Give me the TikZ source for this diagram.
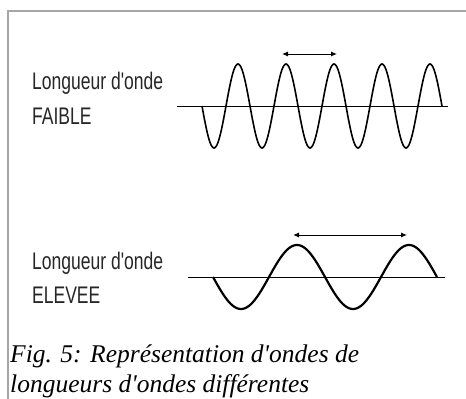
\documentclass[tikz,border=0pt]{standalone}
\usepackage{fontspec}
\usepackage{graphicx}
\usepackage{tikz}
\usetikzlibrary{arrows.meta, positioning}
\newfontfamily\labelfont{Liberation Sans}
\newfontfamily\captionfont{Liberation Serif}
\newcommand{\narrow}[1]{\scalebox{0.73}[1]{#1}}

\begin{document}
\begin{tikzpicture}[
    x=1pt, y=-1pt,
    frame/.style={draw=black!35, line width=1.5pt},
    axis/.style={draw=black, line width=0.9pt},
    wave/.style={draw=black, line width=1.6pt, line join=round},
    label/.style={anchor=base west, inner sep=0pt, text=black!85,
        font=\labelfont\fontsize{24}{35}\selectfont},
    arrow/.style={{Latex[length=6pt, width=5pt]}-{Latex[length=6pt, width=5pt]}, line width=1pt}
]
\useasboundingbox (0,0) rectangle (466,399);
\draw[frame] (466,11) -- (8,11) -- (8,399);
% faible
\node[label] (faibleA) at (32,89) {\narrow{Longueur d'onde}};
\node[label] (faibleB) at (32,124) {\narrow{FAIBLE}};
\draw[axis] (177,106) -- (448,106);
\draw[wave] plot[domain=202:442, samples=241, smooth] (\x, {106+42*sin(7.5*(\x-202))});
\coordinate (crestA) at (282,54);
\coordinate (crestB) at (337,54);
\draw[arrow] (crestA) -- (crestB);
% elevee
\node[label] (eleveeA) at (32,269) {\narrow{Longueur d'onde}};
\node[label] (eleveeB) at (32,303) {\narrow{ELEVEE}};
\draw[axis] (188,277) -- (445,277);
\draw[wave, line width=2.2pt] plot[domain=213:437, samples=225, smooth] (\x, {277+32*sin(3.2142857*(\x-213))});
\coordinate (crestC) at (293,235);
\coordinate (crestD) at (407,235);
\draw[arrow] (crestC) -- (crestD);
% legende
\node[anchor=base west, inner sep=0pt, align=left,
    font=\captionfont\itshape\fontsize{25.5}{30}\selectfont] (caption) at (10,392)
    {Fig. 5: Représentation d'ondes de\\longueurs d'ondes différentes};
\end{tikzpicture}
\end{document}
